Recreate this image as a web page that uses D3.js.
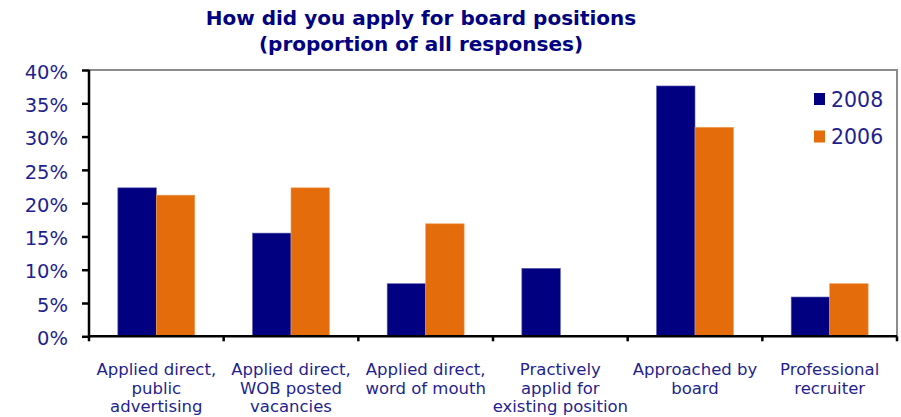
<!DOCTYPE html>
<html>
<head>
<meta charset="utf-8">
<script src="https://cdn.jsdelivr.net/npm/d3@7"></script>
<style>
  body { margin: 0; background: #fff; }
  text { font-family: "DejaVu Sans", Verdana, sans-serif; }
</style>
</head>
<body>
<script>
// data
var categories = [
  ['Applied direct,', 'public', 'advertising'],
  ['Applied direct,', 'WOB posted', 'vacancies'],
  ['Applied direct,', 'word of mouth'],
  ['Practively', 'applid for', 'existing position'],
  ['Approached by', 'board'],
  ['Professional', 'recruiter']
];
var series = ['2008', '2006'];
var values2008 = [22.3, 15.5, 7.9, 10.2, 37.6, 5.9];
var values2006 = [21.2, 22.3, 16.9, null, 31.4, 7.9];
var yTicks = [0, 5, 10, 15, 20, 25, 30, 35, 40];
var colors = ['#000080', '#e46c0a'];

var width = 901, height = 417;
var margin = { top: 70, right: 4, bottom: 80, left: 89 };

var svg = d3.select('body').append('svg')
    .attr('width', width)
    .attr('height', height);

var x0 = d3.scaleBand()
    .domain(d3.range(categories.length))
    .range([margin.left, width - margin.right])
    .paddingInner(1.5 / 3.5)
    .paddingOuter(0.75 / 3.5);

var x1 = d3.scaleBand()
    .domain(series)
    .range([0, x0.bandwidth()]);

var y = d3.scaleLinear()
    .domain([0, 40])
    .range([height - margin.bottom - 0.7, margin.top]);

// title
var title = svg.append('text')
    .attr('x', 421)
    .attr('text-anchor', 'middle')
    .attr('fill', '#000080')
    .style('font-weight', 'bold')
    .style('font-size', '20px');
title.append('tspan').attr('x', 421).attr('y', 25).text('How did you apply for board positions');
title.append('tspan').attr('x', 421).attr('y', 51).text('(proportion of all responses)');

// plot frame (grey top and right)
var x0L = margin.left, x0R = width - margin.right;
svg.append('path')
    .attr('d', 'M' + x0L + ',' + y(40) + 'H' + x0R + 'V' + y(0))
    .attr('fill', 'none')
    .attr('stroke', '#8c8c8c')
    .attr('stroke-width', 2);

// bars
var rows = categories.map(function (c, i) {
  return { i: i, vals: [values2008[i], values2006[i]] };
});

var g = svg.append('g');
g.selectAll('g.cat')
  .data(rows)
  .join('g')
    .attr('class', 'cat')
    .attr('transform', function (d) { return 'translate(' + x0(d.i) + ',0)'; })
  .selectAll('rect')
  .data(function (d) {
    return d.vals.map(function (v, k) { return { s: series[k], v: v, k: k }; })
      .filter(function (e) { return e.v != null; });
  })
  .join('rect')
    .attr('x', function (d) { return x1(d.s); })
    .attr('width', x1.bandwidth())
    .attr('y', function (d) { return y(d.v); })
    .attr('height', function (d) { return y(0) - y(d.v); })
    .attr('fill', function (d) { return colors[d.k]; })
    .attr('stroke', function (d) { return d.k === 0 ? '#5a5ab0' : '#f0a060'; })
    .attr('stroke-width', 0.6);

// y axis
var yAxis = svg.append('g')
    .attr('transform', 'translate(' + margin.left + ',0)')
    .call(d3.axisLeft(y)
      .tickValues(yTicks)
      .tickSize(7)
      .tickPadding(14)
      .tickFormat(function (d) { return d + '%'; }));
yAxis.select('.domain').attr('stroke', '#000').attr('stroke-width', 2.5)
    .attr('d', 'M0,' + y(40) + 'V' + (y(0) + 1));
yAxis.selectAll('.tick line').attr('stroke', '#000').attr('stroke-width', 2.5);
yAxis.selectAll('.tick text')
    .attr('fill', '#1f1f8f')
    .attr('dy', '0.42em')
    .style('font-size', '19.5px')
    .style('font-family', '"DejaVu Sans", Verdana, sans-serif');

// x axis line and category ticks
var xAxisG = svg.append('g');
xAxisG.append('line')
    .attr('x1', x0L).attr('x2', x0R)
    .attr('y1', y(0)).attr('y2', y(0))
    .attr('stroke', '#000').attr('stroke-width', 2.5);
var boundaries = d3.range(categories.length + 1).map(function (i) {
  return x0L + i * x0.step();
});
xAxisG.selectAll('line.tk')
  .data(boundaries)
  .join('line')
    .attr('class', 'tk')
    .attr('x1', function (d) { return d; }).attr('x2', function (d) { return d; })
    .attr('y1', y(0)).attr('y2', y(0) + 5)
    .attr('stroke', '#000').attr('stroke-width', 2.5);

// category labels
var labels = svg.append('g').selectAll('text')
  .data(categories)
  .join('text')
    .attr('text-anchor', 'middle')
    .attr('fill', '#1f1f8f')
    .style('font-size', '16.5px');
labels.each(function (lines, i) {
  var t = d3.select(this);
  var cx = x0(i) + x0.bandwidth() / 2;
  lines.forEach(function (s, j) {
    t.append('tspan').attr('x', cx).attr('y', 375 + j * 18.5).text(s);
  });
});

// legend
var legend = svg.append('g').selectAll('g')
  .data(series)
  .join('g')
    .attr('transform', function (d, i) { return 'translate(814,' + (93 + i * 37.5) + ')'; });
legend.append('rect')
    .attr('width', 11).attr('height', 12)
    .attr('fill', function (d, i) { return colors[i]; });
legend.append('text')
    .attr('x', 17).attr('y', 13.5)
    .attr('fill', '#1f1f8f')
    .style('font-size', '20.5px')
    .text(function (d) { return d; });
</script>
</body>
</html>
